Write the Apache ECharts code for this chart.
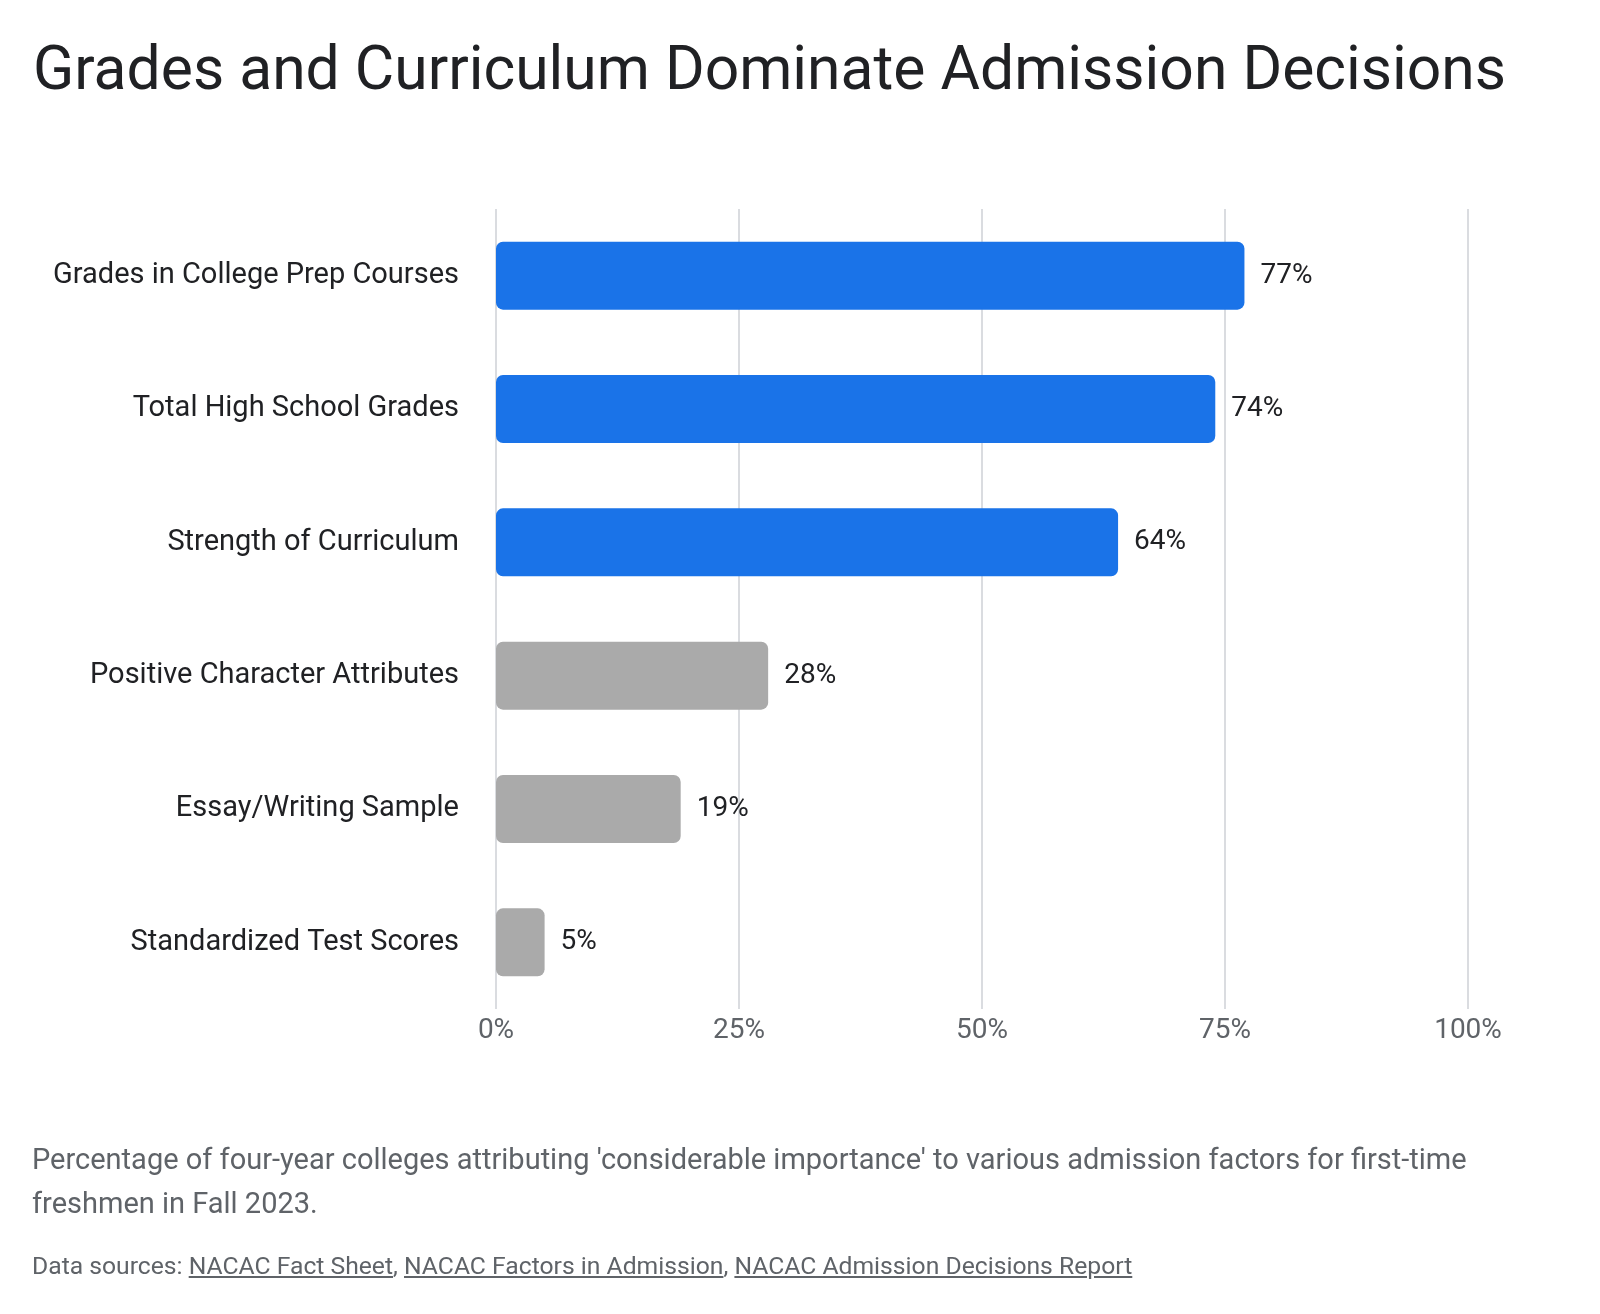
<!DOCTYPE html>
<html>
<head>
<meta charset="utf-8">
<script src="https://cdn.jsdelivr.net/npm/echarts@6/dist/echarts.min.js"></script>
<style>
  html, body { margin: 0; padding: 0; background: #fff; }
  #wrap { position: relative; width: 1600px; height: 1314px; }
  #chart { position: absolute; left: 0; top: 0; width: 1600px; height: 1314px; }
  .note { position: absolute; left: 32px; font-family: Roboto, 'Noto Sans', sans-serif; color: #5f6368; }
  #caption { top: 1137px; width: 1500px; font-size: 29px; line-height: 44px; }
  #sources { top: 1251px; font-size: 24.7px; }
  #sources a { color: #5f6368; text-decoration: underline; }
</style>
</head>
<body>
<div id="wrap">
  <div id="chart"></div>
  <div id="caption" class="note">Percentage of four-year colleges attributing 'considerable importance' to various admission factors for first-time freshmen in Fall 2023.</div>
  <div id="sources" class="note">Data sources: <a>NACAC Fact Sheet</a>, <a>NACAC Factors in Admission</a>, <a>NACAC Admission Decisions Report</a></div>
</div>
<script>
// 数据
const categories = [
  'Grades in College Prep Courses',
  'Total High School Grades',
  'Strength of Curriculum',
  'Positive Character Attributes',
  'Essay/Writing Sample',
  'Standardized Test Scores'
]
const values = [77, 74, 64, 28, 19, 5]
const highlighted = [true, true, true, false, false, false]
const tickValues = [0, 25, 50, 75, 100]

const blue = '#1a73e8'
const grey = '#aaaaaa'

const chart = echarts.init(document.getElementById('chart'))

const option = {
  animation: false,
  title: {
    text: 'Grades and Curriculum Dominate Admission Decisions',
    left: 28,
    top: 38,
    textStyle: {
      fontFamily: 'Roboto, sans-serif',
      fontSize: 60.6,
      fontWeight: 'normal',
      color: '#202124'
    }
  },
  grid: {
    left: 496,
    right: 132,
    top: 209,
    bottom: 305,
    containLabel: false
  },
  xAxis: {
    type: 'value',
    min: tickValues[0],
    max: tickValues[tickValues.length - 1],
    interval: 25,
    axisLine: { show: false },
    axisTick: { show: false },
    axisLabel: {
      formatter: '{value}%',
      color: '#5f6368',
      fontSize: 28,
      fontFamily: 'Roboto, sans-serif',
      margin: 8
    },
    splitLine: { lineStyle: { color: '#dadce0', width: 2 } }
  },
  yAxis: {
    type: 'category',
    inverse: true,
    data: categories,
    axisLine: { show: false },
    axisTick: { show: false },
    axisLabel: {
      color: '#202124',
      fontSize: 29,
      fontFamily: 'Roboto, sans-serif',
      margin: 37,
      padding: [4, 0, 0, 0]
    }
  },
  series: [{
    type: 'bar',
    barWidth: 68,
    data: values.map((v, i) => ({
      value: v,
      itemStyle: { color: highlighted[i] ? blue : grey }
    })),
    itemStyle: { borderRadius: 7 },
    label: {
      show: true,
      position: 'right',
      distance: 16,
      formatter: '{c}%',
      color: '#202124',
      fontSize: 28,
      fontFamily: 'Roboto, sans-serif',
      padding: [4, 0, 0, 0]
    }
  }]
}

chart.setOption(option)
</script>
</body>
</html>
